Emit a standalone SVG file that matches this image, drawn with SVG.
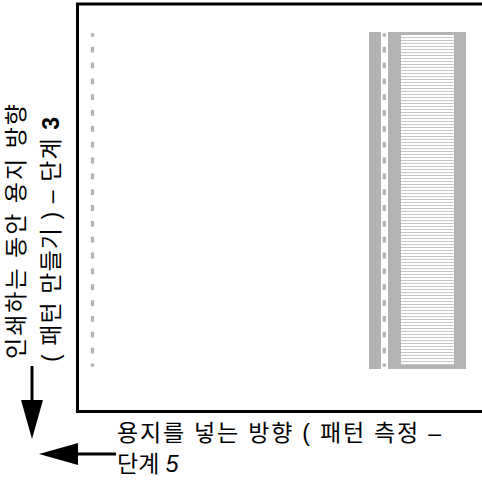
<svg xmlns="http://www.w3.org/2000/svg" width="482" height="482" viewBox="0 0 482 482">
  <style>
    .lbl { font-family: "Liberation Sans", "Noto Sans CJK KR", sans-serif; font-size: 23px; fill: #000; }
    .gray { fill: #b3b3b3; }
    .dash { stroke: #b3b3b3; stroke-width: 3.3; stroke-dasharray: 5.8 10.04; stroke-dashoffset: 2.44; fill: none; }
    .arrow { stroke: #000; stroke-width: 3; fill: none; }
  </style>
  <defs>
    <pattern id="stripes" x="0" y="35" width="10" height="3" patternUnits="userSpaceOnUse">
      <rect x="0" y="0" width="10" height="3" fill="#ffffff"/>
      <rect x="0" y="2" width="10" height="1" fill="#c8c8c8"/>
    </pattern>
  </defs>
  <g id="sheet">
    <rect x="77.5" y="4" width="420" height="407.5" fill="#ffffff" stroke="#000" stroke-width="3"/>
  </g>
  <g id="left-guide">
    <line class="dash" x1="92.5" y1="33.3" x2="92.5" y2="366.7"/>
  </g>
  <g id="pattern-band">
    <rect class="gray" x="369" y="32" width="12" height="337"/>
    <rect class="gray" x="388" y="32" width="78" height="337"/>
    <rect x="401" y="35" width="53" height="330" fill="url(#stripes)"/>
    <line class="dash" x1="384.3" y1="33.3" x2="384.3" y2="366.7"/>
  </g>
  <g id="connectors">
    <line class="arrow" x1="32" y1="366" x2="32" y2="402"/>
    <polygon points="21,400 43,400 32,439" fill="#000"/>
    <line class="arrow" x1="76" y1="454" x2="116" y2="454"/>
    <polygon points="78,443 78,465 39,454" fill="#000"/>
  </g>
  <g id="label-print">
    <text class="lbl" transform="translate(24,359) rotate(-90)" textLength="255" lengthAdjust="spacing">인쇄하는 동안 용지 방향</text>
    <text class="lbl" transform="translate(59,362) rotate(-90)" textLength="245" lengthAdjust="spacing">( 패턴 만들기 ) – 단계 <tspan font-weight="bold">3</tspan></text>
  </g>
  <g id="label-feed">
    <text class="lbl" x="117" y="441" textLength="324" lengthAdjust="spacing">용지를 넣는 방향 ( 패턴 측정 –</text>
    <text class="lbl" x="117" y="472">단계 <tspan font-style="italic">5</tspan></text>
  </g>
</svg>
